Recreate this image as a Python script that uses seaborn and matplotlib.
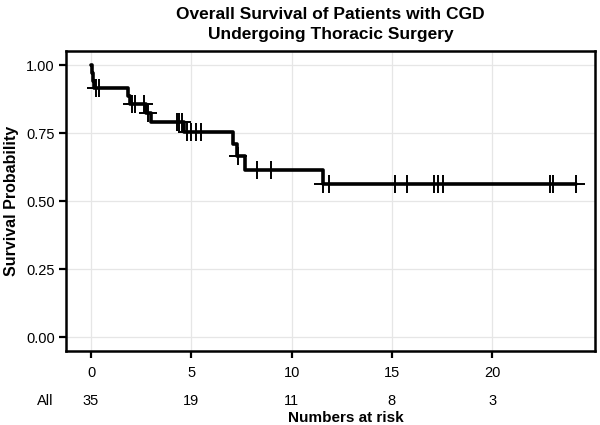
import matplotlib
matplotlib.use("Agg")
import matplotlib.pyplot as plt
import matplotlib.transforms as mtransforms
import numpy as np
import pandas as pd
import seaborn as sns

# survival steps (time in years, survival after the drop)
step_times = [0, 0.05, 0.10, 0.15, 1.83, 1.95, 2.74, 2.98, 4.62, 7.07, 7.30, 7.68, 11.55]
step_surv = [1.0, 0.971, 0.943, 0.914, 0.886, 0.857, 0.824, 0.790, 0.752, 0.710, 0.665, 0.614, 0.562]

# censored observations
censor_times = [0.25, 0.41, 2.02, 2.19, 2.66, 2.86, 4.27, 4.40, 4.55, 4.77, 4.99,
                5.22, 5.49, 7.35, 8.26, 8.96, 11.58, 11.85, 15.16, 15.75, 17.10,
                17.30, 17.56, 22.90, 23.03, 24.20]

# numbers at risk table
risk_times = [0, 5, 10, 15, 20]
risk_counts = [35, 19, 11, 8, 3]

x_ticks = [0, 5, 10, 15, 20]
y_ticks = [0.00, 0.25, 0.50, 0.75, 1.00]

sns.set_style("whitegrid")
plt.rcParams["font.family"] = ["Liberation Sans", "DejaVu Sans"]
plt.rcParams["text.color"] = "black"
plt.rcParams["axes.labelcolor"] = "black"

curve = pd.DataFrame({
    "time": step_times + [max(censor_times)],
    "surv": step_surv + [step_surv[-1]],
})

idx = np.searchsorted(step_times, censor_times, side="right") - 1
cens = pd.DataFrame({
    "time": censor_times,
    "surv": np.array(step_surv)[idx],
})

fig = plt.figure(figsize=(6, 4.25), dpi=100)
ax = fig.add_axes([0.11, 0.175, 0.8817, 0.704])

sns.lineplot(
    data=curve,
    x="time",
    y="surv",
    drawstyle="steps-post",
    color="black",
    linewidth=2.6,
    ax=ax
)

sns.scatterplot(
    data=cens,
    x="time",
    y="surv",
    marker="+",
    s=150,
    color="black",
    linewidth=1.4,
    ax=ax,
    zorder=3
)

ax.set_xlim(-1.25, 25.13)
ax.set_ylim(-0.05, 1.05)
ax.set_xticks(x_ticks)
ax.set_yticks(y_ticks)
ax.set_yticklabels([f"{v:.2f}" for v in y_ticks])

ax.grid(True, color="#e6e6e6", linewidth=0.9)
for spine in ax.spines.values():
    spine.set_edgecolor("black")
    spine.set_linewidth(1.8)

ax.tick_params(axis="both", length=5, width=1.6, color="black",
               labelsize=10.5, labelcolor="black", pad=3, bottom=True, left=True)
ax.tick_params(axis="x", pad=6)

ax.set_xlabel("")
ax.set_ylabel("Survival Probability", fontsize=11.5, fontweight="bold", labelpad=5)

ax.set_title(
    "Overall Survival of Patients with CGD\nUndergoing Thoracic Surgery",
    fontsize=12.5,
    fontweight="bold",
    pad=9,
    linespacing=1.4
)

# numbers at risk under the axis
trans = mtransforms.blended_transform_factory(ax.transData, fig.transFigure)
for t, n in zip(risk_times, risk_counts):
    ax.text(t, 1 - 401 / 425, str(n), transform=trans,
            ha="center", va="center", fontsize=10.5)

fig.text(45 / 600, 1 - 401 / 425, "All", ha="center", va="center", fontsize=10.5)
fig.text(346 / 600, 1 - 418 / 425, "Numbers at risk",
         ha="center", va="center", fontsize=11, fontweight="bold")

fig.savefig("out.png", dpi=100)
